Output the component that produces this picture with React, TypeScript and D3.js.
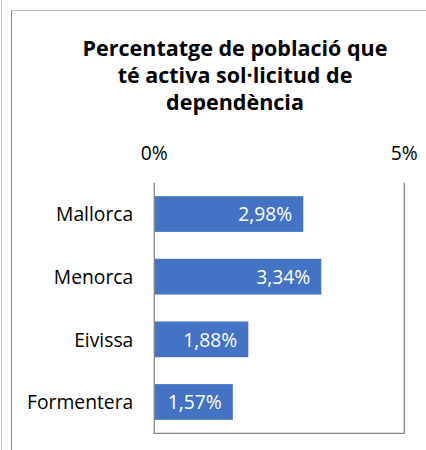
import React from "react";
import * as d3 from "d3";

const categories = ["Mallorca", "Menorca", "Eivissa", "Formentera"];
const values = [2.98, 3.34, 1.88, 1.57];
const tickValues = [0, 5];
const titleLines = ["Percentatge de població que", "té activa sol·licitud de", "dependència"];

const W = 426;
const H = 450;
const font = "'Open Sans', 'Noto Sans', sans-serif";

export default function App() {
  const x = d3.scaleLinear().domain([0, 5]).range([154.3, 404.3]);
  const y = d3.scaleBand<string>().domain(categories).range([182.7, 433.3]).paddingInner(0.43).paddingOuter(0.215);
  const fmt = (v: number) => v.toFixed(2).replace(".", ",") + "%";
  const [x0, x1] = x.range();
  const [y0, y1] = y.range();

  return (
    <svg width={W} height={H} style={{ position: "absolute", left: 0, top: 0, background: "#fff" }} fontFamily={font}>
      <rect x={0} y={0} width={W} height={H} fill="#fff" />
      <line x1={1.5} y1={0} x2={1.5} y2={H} stroke="#c4c4c4" strokeWidth={1} />
      <line x1={11.5} y1={10.5} x2={11.5} y2={H} stroke="#8a8a8a" strokeWidth={1} />
      <line x1={11} y1={10.5} x2={W} y2={10.5} stroke="#bdbdbd" strokeWidth={1.2} />

      {titleLines.map((t, i) => (
        <text key={i} x={235} y={56 + i * 27} textAnchor="middle" fontSize={21.5} fontWeight={700} fill="#000">
          {t}
        </text>
      ))}

      {tickValues.map((t) => (
        <text key={t} x={x(t)} y={160} textAnchor="middle" fontSize={19.3} fill="#000">
          {t + "%"}
        </text>
      ))}

      {categories.map((c, i) => {
        const by = y(c)!;
        const bh = y.bandwidth();
        return (
          <g key={c}>
            <rect x={x(0)} y={by} width={x(values[i]) - x(0)} height={bh} fill="#4472C4" />
            <text x={x(values[i]) - 11} y={by + bh / 2 + 7.3} textAnchor="end" fontSize={19.3} fill="#fff">
              {fmt(values[i])}
            </text>
            <text x={133.3} y={by + bh / 2 + 7.3} textAnchor="end" fontSize={19.3} fill="#000">
              {c}
            </text>
          </g>
        );
      })}

      <path
        d={`M${x0},${y0}V${y1}H${x1}V${y0}`}
        fill="none"
        stroke="#868686"
        strokeWidth={1.3}
      />
    </svg>
  );
}
